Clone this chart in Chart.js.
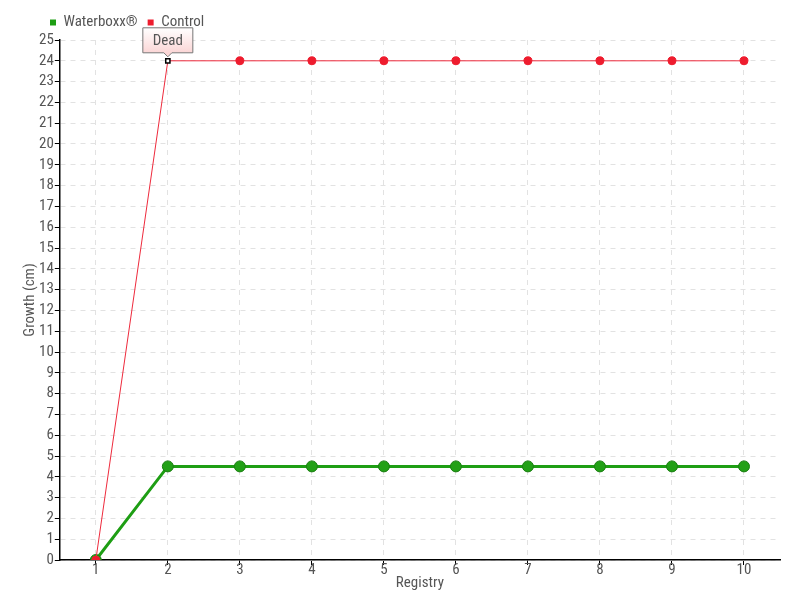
<!DOCTYPE html>
<html>
<head>
<meta charset="utf-8">
<script src="https://cdn.jsdelivr.net/npm/chart.js@4/dist/chart.umd.min.js"></script>
<style>
  html, body { margin: 0; padding: 0; background: #fff; }
  #wrap { width: 800px; height: 600px; }
</style>
</head>
<body>
<div id="wrap"><canvas id="lineChart" width="800" height="600"></canvas></div>
<script>
const registries = ["1", "2", "3", "4", "5", "6", "7", "8", "9", "10"];
const waterboxx = [0, 4.5, 4.5, 4.5, 4.5, 4.5, 4.5, 4.5, 4.5, 4.5];
const control = [0, 24, 24, 24, 24, 24, 24, 24, 24, 24];
const deadIndex = 1;
const deadLabel = "Dead";

const FONT = "'Roboto Condensed', 'DejaVu Sans Condensed', sans-serif";
Chart.defaults.font.family = FONT;
Chart.defaults.color = "#555";

// callout box above the "dead" point, plus legend nudge
const deadNote = {
    id: "deadNote",
    afterLayout(chart) {
        chart.legend.left += 17;
        chart.legend.right += 17;
    },
    afterDatasetsDraw(chart) {
        const meta = chart.getDatasetMeta(1);
        const pt = meta.data[deadIndex];
        if (!pt) return;
        const ctx = chart.ctx;
        const x = pt.x, y = pt.y;
        const w = 50, h = 25;
        const left = x - 25, top = y - 33;
        ctx.save();
        const grad = ctx.createLinearGradient(0, top, 0, top + h);
        grad.addColorStop(0, "#ffffff");
        grad.addColorStop(1, "#fbd6d6");
        ctx.beginPath();
        ctx.moveTo(left, top);
        ctx.lineTo(left + w, top);
        ctx.lineTo(left + w, top + h);
        ctx.lineTo(x + 4, top + h);
        ctx.lineTo(x, top + h + 4);
        ctx.lineTo(x - 4, top + h);
        ctx.lineTo(left, top + h);
        ctx.closePath();
        ctx.fillStyle = grad;
        ctx.fill();
        ctx.strokeStyle = "#777";
        ctx.lineWidth = 1;
        ctx.stroke();
        ctx.fillStyle = "#555";
        ctx.font = "15px " + FONT;
        ctx.textAlign = "center";
        ctx.textBaseline = "middle";
        ctx.fillText(deadLabel, left + w / 2, top + h / 2 + 1);
        ctx.restore();
    }
};

const controlPointStyle = control.map((v, i) => i === deadIndex ? "rect" : "circle");
const controlPointBg = control.map((v, i) => i === deadIndex ? "#ffffff" : "#ee1c2e");
const controlPointBorder = control.map((v, i) => i === deadIndex ? "#000000" : "#ee1c2e");
const controlPointRadius = control.map((v, i) => i === deadIndex ? 3 : 4);
const controlPointBorderW = control.map((v, i) => i === deadIndex ? 1.5 : 1);

new Chart(document.getElementById("lineChart"), {
    type: "line",
    data: {
        labels: registries,
        datasets: [{
            label: "Waterboxx®",
            data: waterboxx,
            order: 2,
            borderColor: "#1e9e14",
            backgroundColor: "#1e9e14",
            borderWidth: 3,
            pointRadius: 5.5,
            pointBackgroundColor: "#22a016",
            pointBorderColor: "#1b7f12",
            pointBorderWidth: 1,
            tension: 0
        }, {
            label: "Control",
            data: control,
            order: 1,
            borderColor: "#ee2a3c",
            backgroundColor: "#ee1c2e",
            borderWidth: 1,
            pointStyle: controlPointStyle,
            pointRadius: controlPointRadius,
            pointBackgroundColor: controlPointBg,
            pointBorderColor: controlPointBorder,
            pointBorderWidth: controlPointBorderW,
            tension: 0
        }]
    },
    options: {
        responsive: false,
        animation: false,
        layout: { padding: { left: 23, right: 20, top: 5, bottom: 9 } },
        plugins: {
            legend: {
                position: "top",
                align: "start",
                labels: {
                    boxWidth: 6,
                    boxHeight: 6,
                    padding: 10,
                    color: "#555",
                    font: { size: 15 },
                    generateLabels(chart) {
                        return chart.data.datasets.map((ds, i) => ({
                            text: ds.label,
                            fillStyle: i === 0 ? "#1e9e14" : "#ee1c2e",
                            strokeStyle: i === 0 ? "#1e9e14" : "#ee1c2e",
                            fontColor: "#555",
                            lineWidth: 0,
                            datasetIndex: i
                        }));
                    }
                }
            },
            tooltip: { enabled: false }
        },
        scales: {
            x: {
                offset: true,
                title: { display: true, text: "Registry", color: "#555", font: { size: 15, lineHeight: 1 }, padding: 0 },
                grid: {
                    color: "#e2e2e2",
                    tickColor: "#000",
                    tickLength: 5
                },
                border: { color: "#000", width: 1.5, dash: [5, 5] },
                ticks: { color: "#555", font: { size: 15, lineHeight: 1 }, padding: -2 }
            },
            y: {
                min: 0,
                max: 25,
                title: { display: true, text: "Growth (cm)", color: "#555", font: { size: 15, lineHeight: 1 }, padding: 0 },
                grid: {
                    color: "#e2e2e2",
                    tickColor: "#000",
                    tickLength: 5
                },
                border: { color: "#000", width: 1.5, dash: [5, 5] },
                ticks: { stepSize: 1, color: "#555", font: { size: 15 }, padding: 1, autoSkip: false }
            }
        }
    },
    plugins: [deadNote]
});
</script>
</body>
</html>
